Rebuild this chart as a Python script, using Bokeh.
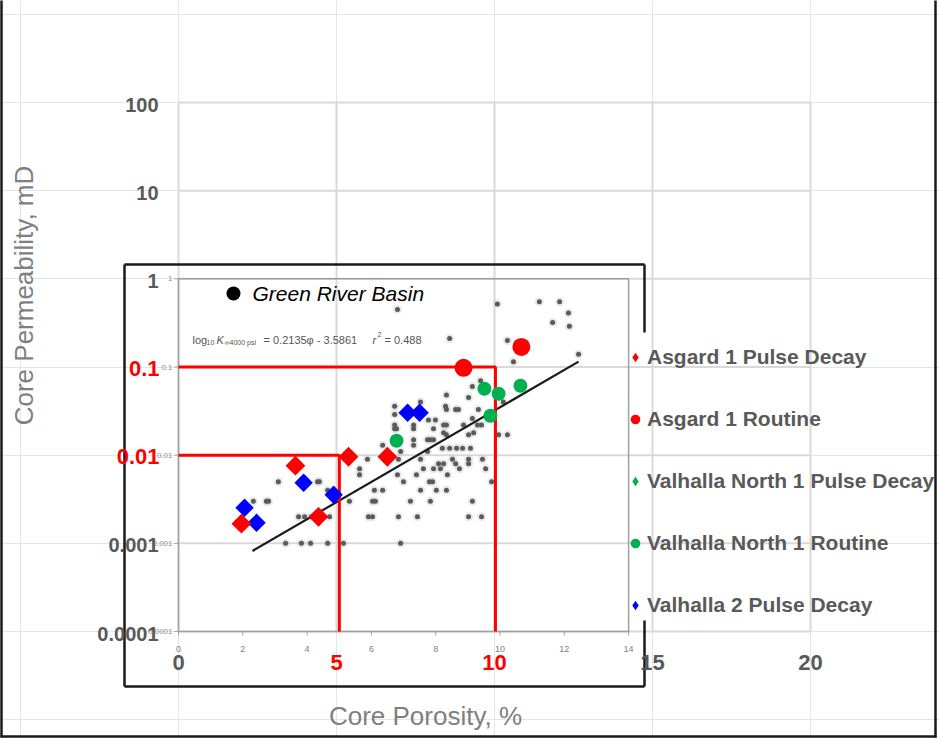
import math
from bokeh.plotting import figure
from bokeh.models import Range1d, Legend, LegendItem
from bokeh.core.properties import value
from bokeh.embed import file_html
from bokeh.resources import INLINE

# ---------------- data ----------------
x_ticks = [0, 5, 10, 15, 20]
x_tick_labels = ["0", "5", "10", "15", "20"]
y_ticks = [0.0001, 0.001, 0.01, 0.1, 1, 10, 100]
y_tick_labels = ["0.0001", "0.001", "0.01", "0.1", "1", "10", "100"]

inset_x_ticks = [0, 2, 4, 6, 8, 10, 12, 14]
inset_x_labels = ["0", "2", "4", "6", "8", "10", "12", "14"]
inset_y_ticks = [0.0001, 0.001, 0.01, 0.1, 1]
inset_y_labels = ["0.0001", "0.001", "0.01", "0.1", "1"]

# cut-off guide lines (permeability, porosity)
cutoff_k = [0.1, 0.01]
cutoff_phi = [10.03, 5.09]

# Asgard 1 pulse decay
asgard_pd_phi = [1.99, 3.70, 4.43, 5.38, 6.61]
asgard_pd_k = [0.00167, 0.0076, 0.0020, 0.0096, 0.0096]
# Asgard 1 routine
asgard_rt_phi = [9.02, 10.85]
asgard_rt_k = [0.098, 0.169]
# Valhalla North 1 pulse decay (no points shown)
vn_pd_phi = []
vn_pd_k = []
# Valhalla North 1 routine
vn_rt_phi = [6.90, 9.68, 9.87, 10.13, 10.82]
vn_rt_k = [0.0146, 0.0566, 0.028, 0.0497, 0.0612]
# Valhalla 2 pulse decay
v2_pd_phi = [2.09, 2.47, 3.96, 4.91, 7.25, 7.63]
v2_pd_k = [0.00253, 0.00171, 0.00486, 0.00356, 0.0303, 0.0303]

# Green River Basin (background data of the inset)
gr_phi = [3.39, 3.89, 4.18, 4.72, 5.22, 7.03,
          3.80, 3.99, 4.21, 4.78, 6.01, 6.14, 6.96, 7.56, 9.18, 9.59,
          2.37, 2.78, 2.85, 5.41, 6.14, 6.23, 7.34, 7.97, 9.30,
          4.72, 6.20, 6.46, 7.66, 8.16, 8.48,
          3.16, 4.40, 4.46, 7.12, 7.94, 8.04, 9.91,
          5.73, 6.93, 7.53, 8.51,
          5.73, 7.75, 8.07, 8.29, 8.89, 9.72,
          8.23, 8.39, 8.77, 9.18,
          5.98, 6.96, 7.66, 8.67, 9.18, 9.62,
          7.03, 7.88,
          8.35, 8.58, 8.80, 8.99, 9.24,
          6.46, 7.44,
          7.44, 7.88, 7.97, 8.07,
          8.48, 9.18, 10.13, 10.41,
          8.39, 9.34,
          6.84, 6.90, 7.44, 8.07,
          6.84, 7.44, 8.39, 8.48, 9.02, 9.46, 9.59,
          7.91, 8.13,
          9.30, 9.78,
          6.84,
          8.48, 8.77, 8.86, 9.49,
          6.84, 8.45,
          7.66, 10.28,
          9.18, 8.48, 9.30, 9.56,
          10.60, 12.66, 10.41, 8.58, 12.37, 11.84, 12.34, 6.93, 10.09, 11.42, 12.06]
gr_k = [0.001, 0.001, 0.001, 0.001, 0.001, 0.001,
        0.002, 0.002, 0.002, 0.002, 0.002, 0.002, 0.002, 0.002, 0.002, 0.002,
        0.003, 0.003, 0.003, 0.003, 0.003, 0.003, 0.003, 0.003, 0.003,
        0.004, 0.004, 0.004, 0.004, 0.004, 0.004,
        0.005, 0.005, 0.005, 0.005, 0.005, 0.005, 0.005,
        0.006, 0.006, 0.006, 0.006,
        0.007, 0.007, 0.007, 0.007, 0.007, 0.007,
        0.008, 0.008, 0.008, 0.008,
        0.009, 0.009, 0.009, 0.009, 0.009, 0.009,
        0.011, 0.011,
        0.012, 0.012, 0.012, 0.012, 0.012,
        0.013, 0.013,
        0.015, 0.015, 0.015, 0.015,
        0.017, 0.017, 0.017, 0.017,
        0.018, 0.018,
        0.020, 0.020, 0.020, 0.020,
        0.022, 0.022, 0.022, 0.022, 0.022, 0.022, 0.022,
        0.025, 0.025,
        0.026, 0.026,
        0.029,
        0.033, 0.033, 0.033, 0.033,
        0.036, 0.036,
        0.040, 0.040,
        0.045, 0.048, 0.060, 0.070,
        0.115, 0.14, 0.20, 0.21, 0.29, 0.32, 0.41, 0.45, 0.52, 0.55, 0.55]

# regression line of the Green River Basin data (end points)
trend_phi = [2.34, 12.66]
trend_k = [0.00082, 0.115]

legend_labels = ["Asgard 1 Pulse Decay", "Asgard 1 Routine",
                 "Valhalla North 1 Pulse Decay", "Valhalla North 1 Routine",
                 "Valhalla 2 Pulse Decay"]

# ---------------- layout ----------------
W, H = 939, 738
X0_PX = 178.0        # pixel of porosity 0
PX_PER_X = 31.6      # pixels per porosity unit
Y100_PX = 102.0      # pixel of permeability 100
PX_PER_DEC = 88.17   # pixels per decade
INSET_X_SCALE = 1.0174

def X(px):
    return (px - X0_PX) / PX_PER_X

def Y(py):
    return 10 ** (2 - (py - Y100_PX) / PX_PER_DEC)

FONT = value("Liberation Sans")
RED = "#FF0000"
BLUE = "#0000FF"
GREEN = "#00B050"
TICK_GRAY = "#595959"
NAN = float("nan")

p = figure(width=W, height=H,
           x_range=Range1d(X(0), X(W)), y_range=Range1d(Y(H), Y(0)),
           y_axis_type="log", x_axis_location=None, y_axis_location=None,
           output_backend="svg", toolbar_location=None, min_border=0)
p.outline_line_color = None
p.background_fill_color = "white"
p.title.visible = False

xmin, xmax = x_ticks[0], x_ticks[-1]
ymin, ymax = y_ticks[0], y_ticks[-1]

# gridlines
p.segment(x0=x_ticks, y0=[ymin] * len(x_ticks), x1=x_ticks, y1=[ymax] * len(x_ticks),
          line_color="#d9d9d9", line_width=2)
p.segment(x0=[xmin] * len(y_ticks), y0=y_ticks, x1=[xmax] * len(y_ticks), y1=y_ticks,
          line_color="#d9d9d9", line_width=2)

# inset axes frame
ix_max = inset_x_ticks[-1] * INSET_X_SCALE
p.line([0, 0, ix_max, ix_max, 0], [inset_y_ticks[0], inset_y_ticks[-1], inset_y_ticks[-1],
                                   inset_y_ticks[0], inset_y_ticks[0]],
       line_color="#a0a0a0", line_width=1.5)
ixt = [t * INSET_X_SCALE for t in inset_x_ticks]
p.segment(x0=ixt, y0=[inset_y_ticks[0]] * len(ixt), x1=ixt, y1=[Y(635)] * len(ixt),
          line_color="#a0a0a0", line_width=1)
p.segment(x0=[X(174)] * len(inset_y_ticks), y0=inset_y_ticks, x1=[0] * len(inset_y_ticks),
          y1=inset_y_ticks, line_color="#a0a0a0", line_width=1)
p.text(x=ixt, y=[Y(648)] * len(ixt), text=inset_x_labels, text_font=FONT,
       text_font_size="9px", text_color="#808080", text_align="center", text_baseline="middle")
p.text(x=[X(172)] * len(inset_y_ticks), y=inset_y_ticks, text=inset_y_labels, text_font=FONT,
       text_font_size="8px", text_color="#909090", text_align="right", text_baseline="middle")

# inset black border (right edge interrupted behind the legend)
p.multi_line(xs=[[X(124), X(644)], [X(124), X(124)], [X(124), X(644)], [X(644), X(644)], [X(644), X(644)]],
             ys=[[Y(264), Y(264)], [Y(264), Y(686)], [Y(686), Y(686)], [Y(264), Y(332)], [Y(620), Y(686)]],
             line_color="#1a1a1a", line_width=2.5)

# Green River Basin points
p.scatter(gr_phi, gr_k, size=9, color="#c8c8c8", alpha=0.4, line_color=None)
p.scatter(gr_phi, gr_k, size=5, color="#5a5a5a", line_color=None)

# trend line
p.line(trend_phi, trend_k, line_color="#1a1a1a", line_width=2.2)

# red cut-off lines
for k, phi in zip(cutoff_k, cutoff_phi):
    p.line([xmin, phi, phi], [k, k, ymin], line_color=RED, line_width=3)

# measured samples
p.scatter(asgard_rt_phi, asgard_rt_k, marker="circle", size=18, color=RED, line_color=None)
p.scatter(vn_rt_phi, vn_rt_k, marker="circle", size=14, color=GREEN, line_color=None)
p.scatter(vn_pd_phi, vn_pd_k, marker="square", angle=math.pi / 4, size=13, color=GREEN, line_color=None)
p.scatter(v2_pd_phi, v2_pd_k, marker="square", angle=math.pi / 4, size=13, color=BLUE, line_color=None)
p.scatter(asgard_pd_phi, asgard_pd_k, marker="square", angle=math.pi / 4, size=14, color=RED, line_color=None)

# legend proxies (small markers, no visible point)
leg_r = [
    p.scatter([NAN], [NAN], marker="diamond", size=10, color=RED, line_color=None),
    p.scatter([NAN], [NAN], marker="circle", size=10, color=RED, line_color=None),
    p.scatter([NAN], [NAN], marker="diamond", size=10, color=GREEN, line_color=None),
    p.scatter([NAN], [NAN], marker="circle", size=10, color=GREEN, line_color=None),
    p.scatter([NAN], [NAN], marker="diamond", size=10, color=BLUE, line_color=None),
]
legend = Legend(items=[LegendItem(label=l, renderers=[r]) for l, r in zip(legend_labels, leg_r)],
                location=(623, H - 618), orientation="vertical",
                spacing=36, glyph_width=24, glyph_height=26, label_height=26,
                label_standoff=0, padding=0, margin=0,
                border_line_alpha=0, background_fill_alpha=0,
                label_text_font="Liberation Sans", label_text_font_style="bold",
                label_text_font_size="21px", label_text_color=TICK_GRAY)
p.add_layout(legend)

# Green River Basin key
p.scatter([X(233)], [Y(293)], marker="circle", size=14, color="black", line_color=None)
p.text(x=[X(252)], y=[Y(293)], text=["Green River Basin"], text_font=FONT,
       text_font_style="italic", text_font_size="21px", text_color="black",
       text_align="left", text_baseline="middle")

# regression equation
eq_parts = [(192, 339, "log", "11px", "normal"),
            (206, 342, "10", "7px", "normal"),
            (216, 339, "K", "11px", "italic"),
            (224, 342, "\u221e4000 psi", "7px", "normal"),
            (263, 339, "= 0.2135\u03c6 - 3.5861", "11px", "normal"),
            (372, 339, "r", "11px", "italic"),
            (377, 334, "2", "7px", "normal"),
            (384, 339, "= 0.488", "11px", "normal")]
for px, py, t, fs, st in eq_parts:
    p.text(x=[X(px)], y=[Y(py)], text=[t], text_font=FONT, text_font_size=fs,
           text_font_style=st, text_color="#555555", text_align="left", text_baseline="middle")

# main tick labels
gy = [(t, l) for t, l in zip(y_ticks, y_tick_labels) if t not in cutoff_k]
p.text(x=[X(158)] * len(gy), y=[t for t, _ in gy], text=[l for _, l in gy], text_font=FONT,
       text_font_style="bold", text_font_size="20px", text_color=TICK_GRAY,
       text_align="right", text_baseline="middle", y_offset=2)
ry = [(t, l) for t, l in zip(y_ticks, y_tick_labels) if t in cutoff_k]
p.text(x=[X(159)] * len(ry), y=[t for t, _ in ry], text=[l for _, l in ry], text_font=FONT,
       text_font_style="bold", text_font_size="22px", text_color=RED,
       text_align="right", text_baseline="middle", y_offset=1)
gx = [(t, l) for t, l in zip(x_ticks, x_tick_labels) if t not in (5, 10)]
p.text(x=[t for t, _ in gx], y=[Y(662)] * len(gx), text=[l for _, l in gx], text_font=FONT,
       text_font_style="bold", text_font_size="22px", text_color=TICK_GRAY,
       text_align="center", text_baseline="middle")
rx = [(t, l) for t, l in zip(x_ticks, x_tick_labels) if t in (5, 10)]
p.text(x=[t for t, _ in rx], y=[Y(662)] * len(rx), text=[l for _, l in rx], text_font=FONT,
       text_font_style="bold", text_font_size="22px", text_color=RED,
       text_align="center", text_baseline="middle")

# axis titles
p.text(x=[X(23)], y=[Y(295)], text=["Core Permeability, mD"], text_font=FONT,
       text_font_size="26px", text_color="#7f7f7f", angle=math.pi / 2,
       text_align="center", text_baseline="middle")
p.text(x=[X(425)], y=[Y(715)], text=["Core Porosity, %"], text_font=FONT,
       text_font_size="26px", text_color="#7f7f7f", text_align="center", text_baseline="middle")

# outer picture border
p.multi_line(xs=[[X(1), X(1)], [X(935), X(935)], [X(0), X(936)]],
             ys=[[Y(0), Y(737)], [Y(0), Y(737)], [Y(736), Y(736)]],
             line_color="#1a1a1a", line_width=2.5, level="overlay")

open("out.html", "w").write(file_html(p, INLINE))
